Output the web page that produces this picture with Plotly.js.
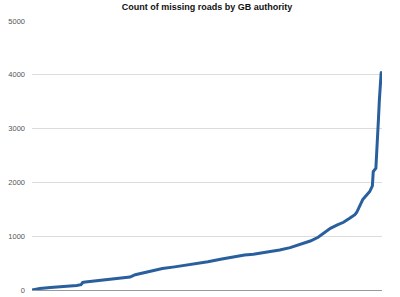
<!DOCTYPE html>
<html>
<head>
<meta charset="utf-8">
<script src="https://cdn.plot.ly/plotly-3.0.1.min.js"></script>
<style>html,body{margin:0;padding:0;background:#fff;}#chart{width:400px;height:297px;}</style>
</head>
<body>
<div id="chart"></div>
<script>
// Authority rank (sorted ascending by count) and count of missing roads
const authorityRank = [0, 9, 21, 35, 51, 56, 58, 61, 74, 89, 104, 112, 118, 133, 149, 163, 186, 201, 217, 232, 243, 253, 269, 283, 295, 306, 318, 327, 333, 341, 349, 356, 363, 369, 371, 374, 378, 381, 386, 389, 390, 393, 394, 396, 397, 399, 400];
const missingRoads = [0, 30, 45, 60, 85, 100, 140, 150, 170, 200, 225, 240, 285, 345, 400, 430, 480, 525, 575, 620, 650, 663, 700, 744, 787, 850, 911, 980, 1054, 1147, 1209, 1259, 1333, 1400, 1440, 1550, 1680, 1736, 1830, 1935, 2200, 2263, 2666, 3194, 3534, 4031, 4060];
const yTicks = [0, 1000, 2000, 3000, 4000, 5000];
const titleText = "Count of missing roads by GB authority";

const trace = {
  x: authorityRank,
  y: missingRoads,
  type: 'scatter',
  mode: 'lines',
  line: {color: '#2a5f9e', width: 3},
  hoverinfo: 'skip'
};

const layout = {
  width: 400, height: 297,
  margin: {l: 32, r: 18, t: 21, b: 7, pad: 0},
  paper_bgcolor: '#fff', plot_bgcolor: '#fff',
  showlegend: false,
  title: {
    text: '<b>' + titleText + '</b>',
    font: {family: 'Liberation Sans, Arial, sans-serif', size: 9, color: '#111'},
    x: 0.5, xref: 'paper', xanchor: 'center',
    y: 1, yref: 'container', yanchor: 'top', pad: {t: 4}
  },
  xaxis: {
    range: [0, 400],
    showticklabels: false, ticks: '', showgrid: false, zeroline: false,
    showline: true, linecolor: '#999', linewidth: 1
  },
  yaxis: {
    range: [0, 5000],
    tickvals: yTicks,
    ticktext: yTicks.map(String),
    ticks: '', showline: false,
    gridcolor: '#dcdcdc', gridwidth: 1,
    zeroline: false,
    tickfont: {family: 'Liberation Sans, Arial, sans-serif', size: 7.5, color: '#555'},
    ticklabelstandoff: 6
  }
};

Plotly.newPlot('chart', [trace], layout, {staticPlot: true, displayModeBar: false});
</script>
</body>
</html>
